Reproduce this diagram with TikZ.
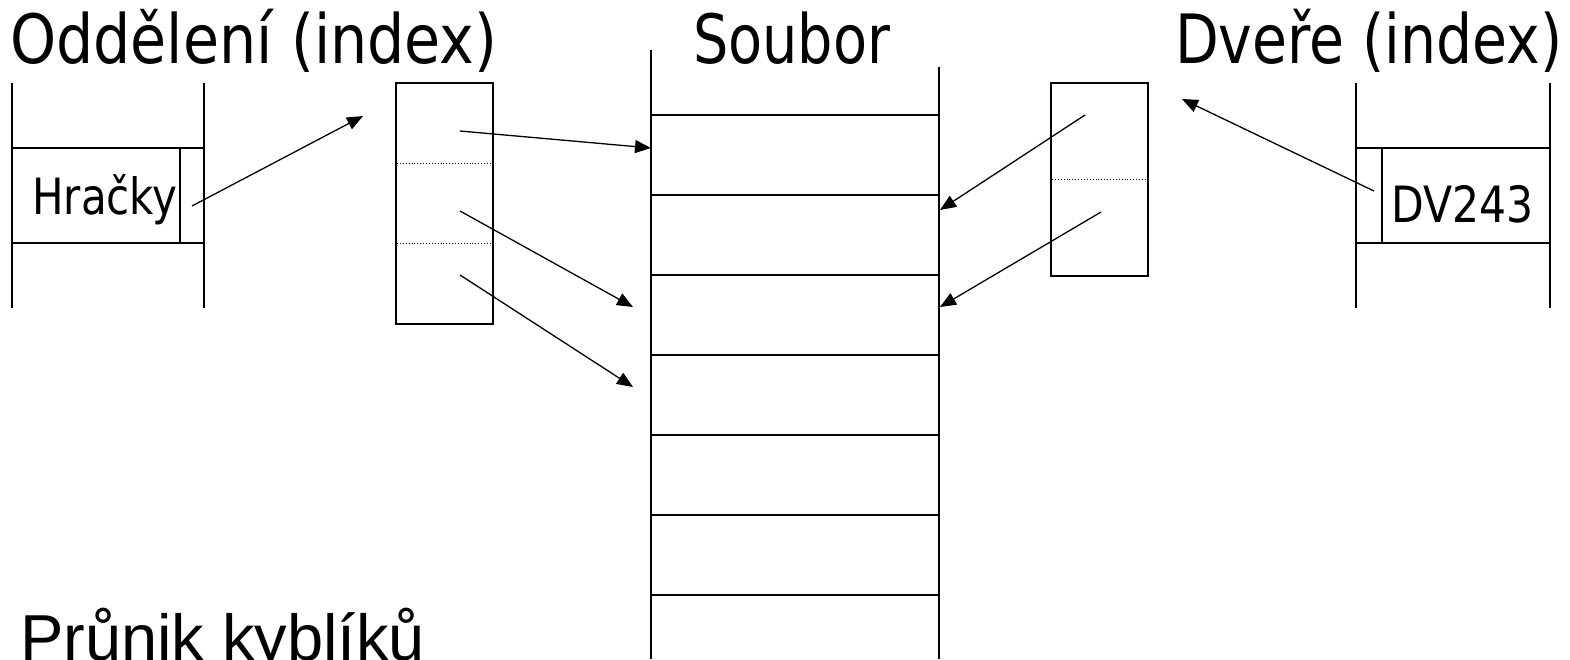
\documentclass[tikz,border=0pt]{standalone}
\usepackage{fontspec}
\usepackage{graphicx}
\setmainfont{DejaVu Sans Condensed}
\newfontfamily\arialfont{Liberation Sans}
\usetikzlibrary{arrows.meta}
\newcommand{\fitw}[2]{\resizebox{#1}{\height}{#2}}
\begin{document}
\begin{tikzpicture}[x=1pt,y=-1pt,
  line/.style={line width=1.3pt},
  arr/.style={line width=1.3pt,-{Triangle[length=16pt,width=13pt]}},
  dots/.style={line width=0.9pt,dotted},
  title/.style={anchor=base west,inner sep=0pt,font=\fontsize{68}{80}\selectfont},
  cell/.style={anchor=base west,inner sep=0pt,font=\fontsize{50}{60}\selectfont},
  idx/.style={draw,line width=1.3pt,inner sep=0pt,minimum width=97pt}]
\useasboundingbox[fill=white] (0,0) rectangle (1570,659);
% titles
\node[title] (t1) at (10,63) {\fitw{487pt}{Oddělení (index)}};
\node[title] (t2) at (693,63) {\fitw{197pt}{Soubor}};
\node[title] (t3) at (1175,63) {\fitw{387pt}{Dveře (index)}};
\node[anchor=base west,inner sep=0pt,font=\arialfont\fontsize{65}{80}\selectfont] (t4) at (20,660) {Průnik kyblíků};
% left table
\draw[line] (12,83) -- (12,308) (204,83) -- (204,308);
\draw[line] (12,148) -- (204,148) (12,243) -- (204,243) (180,148) -- (180,243);
\node[cell] (h) at (32,214) {\fitw{145pt}{Hračky}};
\coordinate (hs) at (192,206);
\coordinate (he) at (363,116);
% left index
\node[idx,minimum height=241pt] (li) at (444.5,203.5) {};
\draw[dots] (397,163) -- (492,163) (397,243) -- (492,243);
\coordinate (l1) at (460,131);
\coordinate (l2) at (460,211);
\coordinate (l3) at (460,275);
% file
\draw[line] (651,50) -- (651,659) (939,67) -- (939,659);
\foreach \y in {115,195,275,355,435,515,595}
  \draw[line] (651,\y) -- (939,\y);
\coordinate (f1) at (651,148);
\coordinate (f2) at (633,307);
\coordinate (f3) at (633,387);
\coordinate (g1) at (940,210);
\coordinate (g2) at (940,307);
% right index
\node[idx,minimum height=193pt] (ri) at (1099.5,179.5) {};
\draw[dots] (1052,179) -- (1147,179);
\coordinate (r1) at (1085,115);
\coordinate (r2) at (1101,212);
% right table
\draw[line] (1356,83) -- (1356,308) (1550,83) -- (1550,308);
\draw[line] (1356,148) -- (1550,148) (1356,243) -- (1550,243) (1382,148) -- (1382,243);
\node[cell] (d) at (1391,222) {\fitw{142pt}{DV243}};
\coordinate (ds) at (1374,191);
\coordinate (de) at (1182,99);
% arrows
\draw[arr] (hs) -- (he);
\draw[arr] (l1) -- (f1);
\draw[arr] (l2) -- (f2);
\draw[arr] (l3) -- (f3);
\draw[arr] (r1) -- (g1);
\draw[arr] (r2) -- (g2);
\draw[arr] (ds) -- (de);
\end{tikzpicture}
\end{document}
